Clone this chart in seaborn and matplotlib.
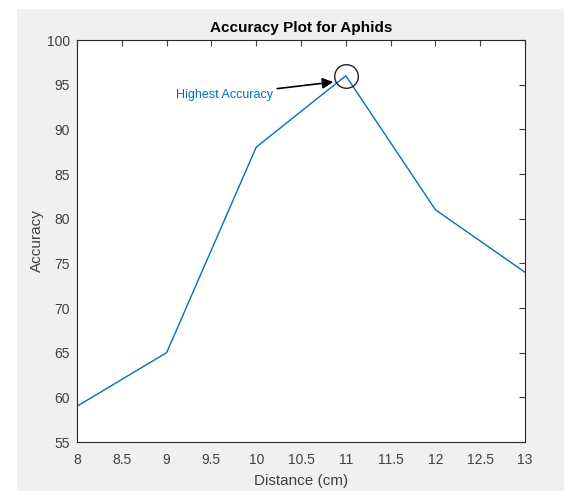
import matplotlib
matplotlib.use("Agg")
import matplotlib.pyplot as plt
import seaborn as sns
import pandas as pd
from matplotlib.patches import Rectangle

distance = [8, 9, 10, 11, 12, 13]
accuracy = [59, 65, 88, 96, 81, 74]
xticks = [8, 8.5, 9, 9.5, 10, 10.5, 11, 11.5, 12, 12.5, 13]
yticks = [55, 60, 65, 70, 75, 80, 85, 90, 95, 100]
title = "Accuracy Plot for Aphids"
xlabel = "Distance (cm)"
ylabel = "Accuracy"
note = "Highest Accuracy"

df = pd.DataFrame({"Distance": distance, "Accuracy": accuracy})

sns.set_theme(style="white")
plt.rcParams['font.family'] = ['Liberation Sans', 'DejaVu Sans']

fig = plt.figure(figsize=(5.64, 4.91), dpi=100)
fig.patch.set_facecolor("white")
W, H = 564, 491
fig.patches.append(Rectangle((17 / W, 0), 1 - 17 / W, 1 - 9 / H, transform=fig.transFigure,
                             facecolor="#f0f0f0", edgecolor="none", zorder=-10))
ax = fig.add_axes([77 / W, 1 - 442 / H, (525 - 77) / W, (442 - 40) / H])
ax.set_facecolor("white")

blue = "#0072BD"
sns.lineplot(data=df, x="Distance", y="Accuracy", ax=ax, color=blue, linewidth=1.0)

imax = accuracy.index(max(accuracy))
ax.plot(distance[imax], accuracy[imax], marker="o", markersize=17, markerfacecolor="none",
        markeredgecolor="#222222", markeredgewidth=1.0, linestyle="none")

ax.annotate(note, xy=(10.86, 95.3), xytext=(9.1, 93.85), color=blue, fontsize=9,
            ha="left", va="center",
            arrowprops=dict(arrowstyle="-|>", color="black", lw=1.2, mutation_scale=16,
                            shrinkA=1, shrinkB=0))

ax.set_xlim(8, 13)
ax.set_ylim(55, 100)
ax.set_xticks(xticks)
ax.set_xticklabels([f"{t:g}" for t in xticks])
ax.set_yticks(yticks)
ax.tick_params(direction="in", length=4, width=0.8, colors="#404040", labelsize=10,
               top=True, right=True, labeltop=False, labelright=False)
ax.tick_params(axis="x", pad=8)
ax.tick_params(axis="y", pad=5)
for s in ax.spines.values():
    s.set_color("#262626")
    s.set_linewidth(0.8)
ax.set_xlabel(xlabel, fontsize=11, color="#404040", labelpad=5)
ax.set_ylabel(ylabel, fontsize=11, color="#404040", labelpad=2)
ax.set_title(title, fontsize=11, fontweight="bold", color="black", pad=6)

fig.savefig("out.png", dpi=100, facecolor=fig.get_facecolor())
